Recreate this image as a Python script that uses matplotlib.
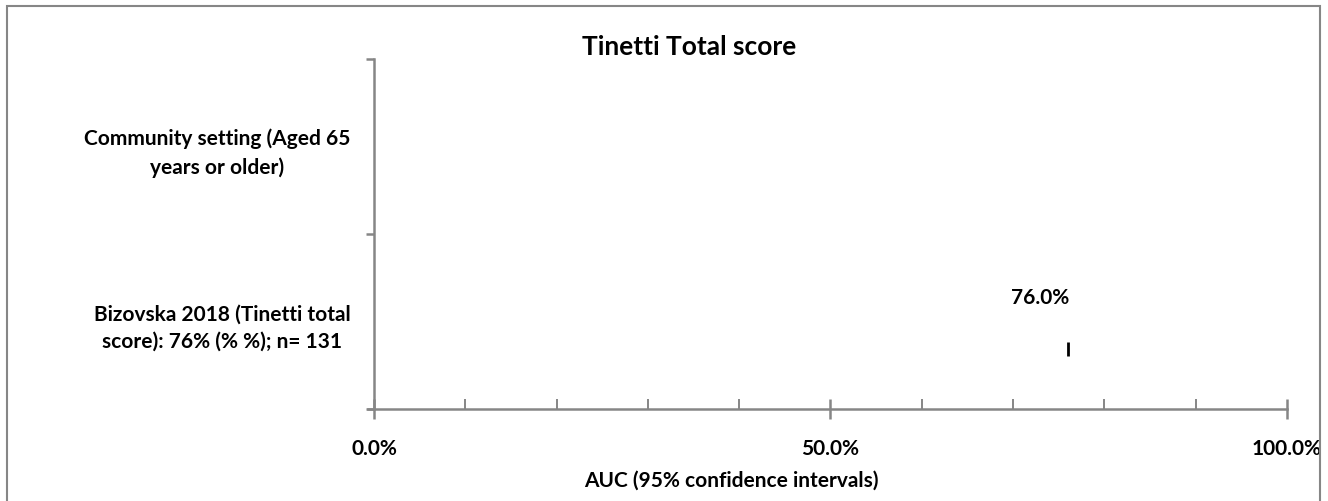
import matplotlib.pyplot as plt
from matplotlib.patches import Rectangle
from matplotlib.ticker import MultipleLocator, FuncFormatter

# data
rows = ['Bizovska 2018 (Tinetti total\nscore): 76% (% %); n= 131',
        'Community setting (Aged 65\nyears or older)']
row_pos = [0.34, 1.5]          # where each study point sits
auc = [76.0, None]             # only the study row has an estimate
auc_labels = ['76.0%', None]
title = 'Tinetti Total score'
xlabel = 'AUC (95% confidence intervals)'

plt.rcParams['font.family'] = ['Lato', 'DejaVu Sans']
plt.rcParams['font.weight'] = 'bold'

fig = plt.figure(figsize=(13.28, 5.02), dpi=100)
ax = fig.add_axes([0.2816, 0.1833, 0.6875, 0.6972])

grey = '#868686'

# outer frame of the chart
top = 1 - 7 / 502
fig.patches.append(Rectangle((7 / 1328, -0.05), 1313 / 1328, top + 0.05,
                             transform=fig.transFigure, fill=False,
                             edgecolor=grey, linewidth=1.5))

for v, yp, lab in zip(auc, row_pos, auc_labels):
    if v is None:
        continue
    ax.plot([v], [yp], marker='|', markersize=10, markeredgewidth=2,
            color='black', linestyle='none')
    ax.annotate(lab, (v, yp), xytext=(-20, 38), textcoords='offset points',
                ha='center', va='center', fontsize=15, fontweight='bold')

ax.set_xlim(0, 100)
ax.set_ylim(0, 2)

for s in ['top', 'right']:
    ax.spines[s].set_visible(False)
for s in ['left', 'bottom']:
    ax.spines[s].set_color(grey)
    ax.spines[s].set_linewidth(1.8)
ax.spines['bottom'].set_bounds(-0.7, 100)

ax.xaxis.set_major_locator(MultipleLocator(50))
ax.xaxis.set_minor_locator(MultipleLocator(10))
ax.xaxis.set_major_formatter(FuncFormatter(lambda x, p: f'{x:.1f}%'))
ax.tick_params(axis='x', which='major', direction='inout', length=14, width=1.8,
               color=grey, pad=14, labelsize=15)
ax.tick_params(axis='x', which='minor', direction='in', length=7, width=1.4, color=grey)

ax.set_yticks([0, 1, 2])
ax.set_yticklabels([])
ax.set_yticks([0.5, 1.5], minor=True)
ax.set_yticklabels(rows, minor=True)
ax.tick_params(axis='y', which='major', direction='out', length=6, width=1.8, color=grey)
ax.tick_params(axis='y', which='minor', length=0, pad=17, labelsize=15)
for t in ax.get_yticklabels(minor=True):
    t.set_multialignment('center')
    t.set_linespacing(1.45)

ax.set_xlabel(xlabel, fontsize=15, fontweight='bold')
ax.xaxis.set_label_coords(0.391, -0.203)
ax.xaxis.label.set_va('center')

fig.text(689 / 1328, 1 - 47 / 502, title, ha='center', va='center',
         fontsize=19, fontweight='bold')

fig.savefig('out.png', dpi=100)
